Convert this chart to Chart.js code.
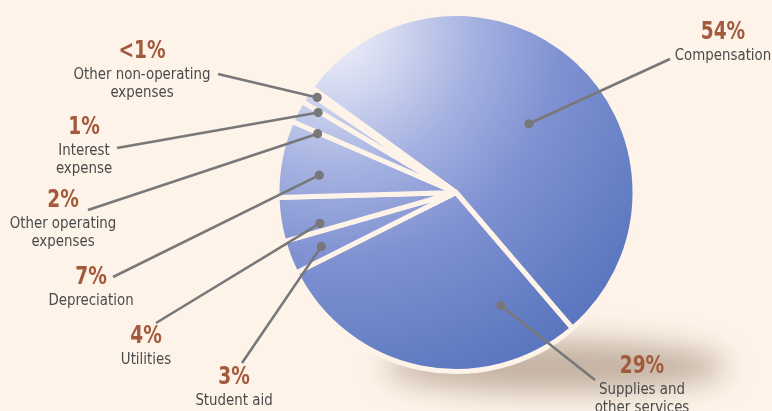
<!DOCTYPE html>
<html>
<head>
<meta charset="utf-8">
<script src="https://cdn.jsdelivr.net/npm/chart.js@4.4.1/dist/chart.umd.min.js"></script>
<style>
html,body{margin:0;padding:0;background:#fdf3e8;}
#wrap{width:772px;height:411px;position:relative;}
</style>
</head>
<body>
<div id="wrap"><canvas id="c" width="772" height="411"></canvas></div>
<script>
// ---- data ----
const categories = ["Compensation", "Supplies and other services", "Student aid", "Utilities", "Depreciation", "Other operating expenses", "Interest expense", "Other non-operating expenses"];
const values = [54, 29, 3, 4, 7, 2, 1, 0.5];
const pctLabels = ["54%", "29%", "3%", "4%", "7%", "2%", "1%", "<1%"];
const nameLines = [["Compensation"], ["Supplies and", "other services"], ["Student aid"], ["Utilities"], ["Depreciation"], ["Other operating", "expenses"], ["Interest", "expense"], ["Other non-operating", "expenses"]];

// ---- label layout (text anchor, leader start, dot placement relative to slice) ----
const labelLayout = [
  {tx: 723, ty: 33, lx: 670, ly: 59, da: 4, k: 0.56},
  {tx: 642, ty: 367, lx: 595, ly: 380, da: -33, k: 0.68},
  {tx: 234, ty: 378, lx: 242, ly: 363, da: -0.5, k: 0.81},
  {tx: 146, ty: 337, lx: 156, ly: 323, da: -4, k: 0.78},
  {tx: 91, ty: 278, lx: 113, ly: 277, da: -3.7, k: 0.77},
  {tx: 63, ty: 201, lx: 88, ly: 210, da: -4, k: 0.84},
  {tx: 84, ty: 128, lx: 117, ly: 148, da: -2.3, k: 0.89},
  {tx: 142, ty: 52, lx: 218, ly: 74, da: -0.7, k: 0.94}
];

const BG = '#fdf3e8';
const PCT_COLOR = '#a35a3c';
const NAME_COLOR = '#4a4a4a';
const LINE_COLOR = '#78787a';
const FONT = '"DejaVu Sans Condensed", "DejaVu Sans", sans-serif';

function pieGeom(chart) {
  const ca = chart.chartArea;
  const cx = (ca.left + ca.right) / 2, cy = (ca.top + ca.bottom) / 2;
  const r = (Math.min(ca.right - ca.left, ca.bottom - ca.top) - 5) / 2;
  return {cx, cy, r};
}

const shadowPlugin = {
  id: 'shadow',
  beforeDatasetsDraw(chart) {
    const g = pieGeom(chart);
    const ctx = chart.ctx;
    ctx.save();
    ctx.filter = 'blur(14px)';
    ctx.fillStyle = 'rgba(150,125,105,0.55)';
    ctx.beginPath();
    ctx.ellipse(g.cx + 100, g.cy + g.r - 5, g.r * 0.95, 26, 0, 0, Math.PI * 2);
    ctx.fill();
    ctx.restore();
  }
};

function drawText(ctx, t, x, y, sx) {
  ctx.save();
  ctx.translate(x, y);
  ctx.scale(sx, 1);
  ctx.fillText(t, 0, 0);
  ctx.restore();
}

const labelPlugin = {
  id: 'labels',
  afterDatasetsDraw(chart) {
    const meta = chart.getDatasetMeta(0);
    const ctx = chart.ctx;
    ctx.save();
    meta.data.forEach((arc, i) => {
      const L = labelLayout[i];
      const mid = (arc.startAngle + arc.endAngle) / 2 + L.da * Math.PI / 180;
      const dx = arc.x + Math.cos(mid) * arc.outerRadius * L.k;
      const dy = arc.y + Math.sin(mid) * arc.outerRadius * L.k;
      ctx.strokeStyle = LINE_COLOR;
      ctx.lineWidth = 2.6;
      ctx.beginPath();
      ctx.moveTo(L.lx, L.ly);
      ctx.lineTo(dx, dy);
      ctx.stroke();
      ctx.fillStyle = LINE_COLOR;
      ctx.beginPath();
      ctx.arc(dx, dy, 4.6, 0, Math.PI * 2);
      ctx.fill();
      // texts
      ctx.textAlign = 'center';
      ctx.textBaseline = 'middle';
      ctx.fillStyle = PCT_COLOR;
      ctx.font = 'bold 24px ' + FONT;
      drawText(ctx, pctLabels[i], L.tx, L.ty, 0.86);
      ctx.fillStyle = NAME_COLOR;
      ctx.font = '16.5px ' + FONT;
      nameLines[i].forEach((t, j) => {
        drawText(ctx, t, L.tx, L.ty + 22.5 + j * 18.5, 0.9);
      });
    });
    ctx.restore();
  }
};

function pieFill(context) {
  const chart = context.chart;
  if (!chart.chartArea) return '#8497d2';
  const p = pieGeom(chart);
  const fx = p.cx - 0.68 * p.r, fy = p.cy - 0.9 * p.r;
  const g = chart.ctx.createRadialGradient(fx, fy, 0, fx, fy, 2.1 * p.r);
  g.addColorStop(0, '#f3f2fb');
  g.addColorStop(0.15, '#d5daf1');
  g.addColorStop(0.38, '#a3b0e0');
  g.addColorStop(0.6, '#8092d2');
  g.addColorStop(0.8, '#6c84c8');
  g.addColorStop(1, '#5a76bf');
  return g;
}

new Chart(document.getElementById('c'), {
  type: 'pie',
  data: {
    labels: categories,
    datasets: [{
      data: values,
      backgroundColor: pieFill,
      borderColor: BG,
      borderWidth: 5,
      hoverOffset: 0
    }]
  },
  options: {
    responsive: false,
    animation: false,
    rotation: 306,
    layout: {padding: {left: 266, right: 126, top: 11, bottom: 37}},
    plugins: {legend: {display: false}, tooltip: {enabled: false}},
    events: []
  },
  plugins: [shadowPlugin, labelPlugin]
});
</script>
</body>
</html>
